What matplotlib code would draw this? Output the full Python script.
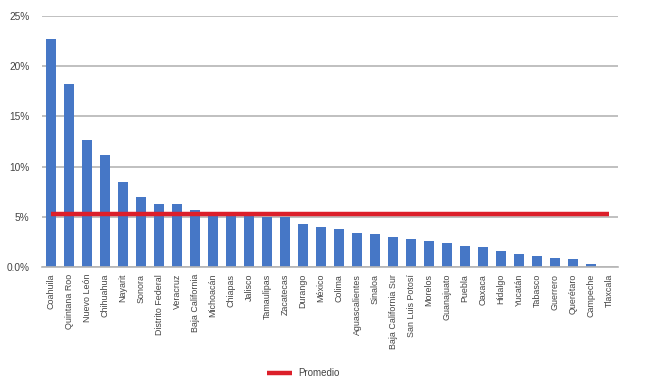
import matplotlib
matplotlib.use("Agg")
import matplotlib.pyplot as plt
from matplotlib.ticker import FuncFormatter

states = ["Coahuila", "Quintana Roo", "Nuevo León", "Chihuahua", "Nayarit", "Sonora",
          "Distrito Federal", "Veracruz", "Baja California", "Michoacán", "Chiapas", "Jalisco",
          "Tamaulipas", "Zacatecas", "Durango", "México", "Colima", "Aguascalientes",
          "Sinaloa", "Baja California Sur", "San Luis Potosí", "Morelos", "Guanajuato",
          "Puebla", "Oaxaca", "Hidalgo", "Yucatán", "Tabasco", "Guerrero", "Querétaro",
          "Campeche", "Tlaxcala"]
values = [22.7, 18.2, 12.65, 11.2, 8.47, 7.0, 6.3, 6.25, 5.7, 5.45, 5.4, 5.3,
          5.0, 4.98, 4.25, 3.95, 3.8, 3.4, 3.26, 2.96, 2.76, 2.56, 2.36, 2.13,
          2.0, 1.56, 1.3, 1.06, 0.86, 0.76, 0.33, 0.0]
promedio = 5.3
yticks = [0, 5, 10, 15, 20, 25]

plt.rcParams['font.family'] = ['Liberation Sans', 'DejaVu Sans']

fig = plt.figure(figsize=(6.54, 3.92), dpi=100)
ax = fig.add_axes([42/654, 1-267/392, 576/654, 251/392])

x = list(range(len(states)))
ax.bar(x, values, width=0.52, color="#4677c6", zorder=2)
ax.plot(x, [promedio]*len(x), color="#dc1f2a", lw=3.2, zorder=3, label="Promedio",
        solid_capstyle="butt")

ax.set_xlim(-0.5, len(states)-0.5)
ax.set_ylim(0, 25)
ax.set_yticks(yticks)
ax.yaxis.set_major_formatter(FuncFormatter(lambda v, p: "0.0%" if v == 0 else f"{v:.0f}%"))
ax.grid(axis="y", color="#b5b5b5", lw=1.2, zorder=0)
ax.set_axisbelow(True)
for s in ["top", "right", "left"]:
    ax.spines[s].set_visible(False)
ax.spines["bottom"].set_color("#b5b5b5")
ax.spines["bottom"].set_linewidth(1.2)
ax.tick_params(axis="y", length=0, pad=9, labelsize=7.3, labelcolor="#444444")
ax.tick_params(axis="x", length=0, pad=5, labelsize=6.4, labelcolor="#444444")
ax.set_xticks(x)
ax.set_xticklabels(states, rotation=90)

fig.legend(handles=ax.get_lines(), labels=["Promedio"], loc="center",
           bbox_to_anchor=(303/654, 1-373/392), frameon=False, fontsize=7,
           handlelength=2.6, handletextpad=0.6, labelcolor="#444444")

fig.savefig("out.png", dpi=100)
